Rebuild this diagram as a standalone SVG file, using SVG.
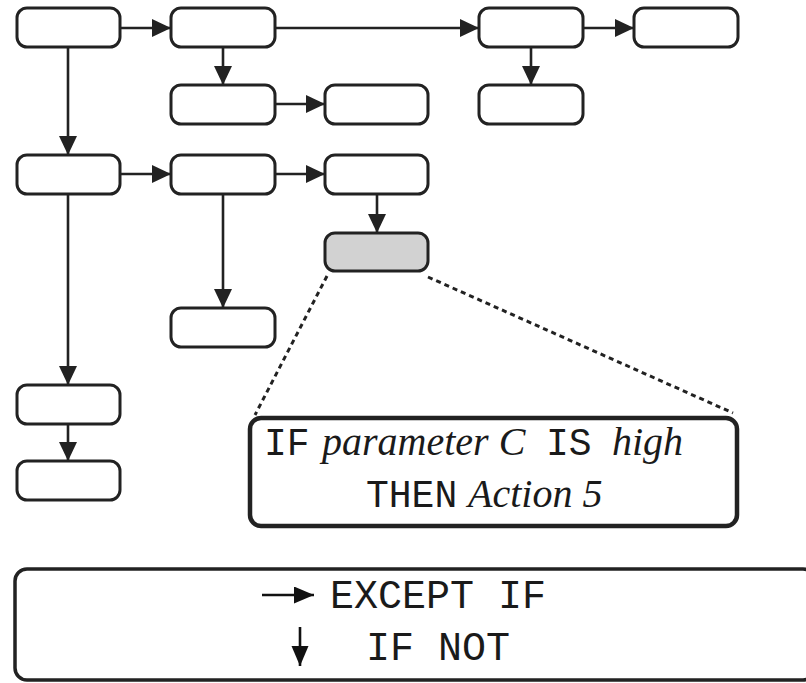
<svg xmlns="http://www.w3.org/2000/svg" width="806" height="683" viewBox="0 0 806 683">
  <style>
    .node rect { fill: #ffffff; stroke: #222222; stroke-width: 3; }
    .node.shaded rect { fill: #d2d2d2; }
    .edge { stroke: #222222; stroke-width: 2.6; fill: none; }
    .dash { stroke: #222222; stroke-width: 3; stroke-dasharray: 5 4; fill: none; }
    .mono { font-family: "Liberation Mono", "Courier New", monospace; fill: #1a1a1a; }
    .ital { font-family: "Liberation Serif", "Times New Roman", serif; font-style: italic; fill: #1a1a1a; }
  </style>
  <defs>
    <marker id="arrow" markerUnits="userSpaceOnUse" markerWidth="20" markerHeight="20" refX="19" refY="9" orient="auto">
      <path d="M0,0 L19,9 L0,18 z" fill="#222222"/>
    </marker>
    <marker id="arrowBig" markerUnits="userSpaceOnUse" markerWidth="21" markerHeight="18" refX="20" refY="8.5" orient="auto">
      <path d="M0,0 L20,8.5 L0,17 z" fill="#111111"/>
    </marker>
  </defs>

  <rect width="806" height="683" fill="#ffffff"/>

  <!-- connectors -->
  <g id="connectors">
    <line class="edge" x1="120" y1="28" x2="171" y2="28" marker-end="url(#arrow)"/>
    <line class="edge" x1="275" y1="28" x2="479" y2="28" marker-end="url(#arrow)"/>
    <line class="edge" x1="583" y1="28" x2="634" y2="28" marker-end="url(#arrow)"/>
    <line class="edge" x1="68" y1="47" x2="68" y2="155" marker-end="url(#arrow)"/>
    <line class="edge" x1="223" y1="47" x2="223" y2="85" marker-end="url(#arrow)"/>
    <line class="edge" x1="531" y1="47" x2="531" y2="85" marker-end="url(#arrow)"/>
    <line class="edge" x1="275" y1="104" x2="325" y2="104" marker-end="url(#arrow)"/>
    <line class="edge" x1="120" y1="174" x2="171" y2="174" marker-end="url(#arrow)"/>
    <line class="edge" x1="275" y1="174" x2="325" y2="174" marker-end="url(#arrow)"/>
    <line class="edge" x1="223" y1="194" x2="223" y2="308" marker-end="url(#arrow)"/>
    <line class="edge" x1="377" y1="194" x2="377" y2="233" marker-end="url(#arrow)"/>
    <line class="edge" x1="68" y1="194" x2="68" y2="385" marker-end="url(#arrow)"/>
    <line class="edge" x1="68" y1="424" x2="68" y2="461" marker-end="url(#arrow)"/>
    <!-- callout lines from the shaded node to its rule -->
    <line class="dash" x1="327" y1="276" x2="255" y2="415"/>
    <line class="dash" x1="428" y1="277" x2="733" y2="413"/>
  </g>

  <!-- decision nodes -->
  <g id="n1" class="node"><rect x="17" y="8" width="103" height="39" rx="10"/></g>
  <g id="n2" class="node"><rect x="171" y="8" width="104" height="39" rx="10"/></g>
  <g id="n3" class="node"><rect x="479" y="8" width="104" height="39" rx="10"/></g>
  <g id="n4" class="node"><rect x="634" y="8" width="104" height="39" rx="10"/></g>
  <g id="n5" class="node"><rect x="171" y="85" width="104" height="39" rx="10"/></g>
  <g id="n6" class="node"><rect x="325" y="85" width="103" height="39" rx="10"/></g>
  <g id="n7" class="node"><rect x="479" y="85" width="104" height="39" rx="10"/></g>
  <g id="n8" class="node"><rect x="17" y="155" width="103" height="39" rx="10"/></g>
  <g id="n9" class="node"><rect x="171" y="155" width="104" height="39" rx="10"/></g>
  <g id="n10" class="node"><rect x="325" y="155" width="103" height="39" rx="10"/></g>
  <g id="n11" class="node shaded"><rect x="325" y="233" width="103" height="38" rx="10"/></g>
  <g id="n12" class="node"><rect x="171" y="308" width="104" height="39" rx="10"/></g>
  <g id="n13" class="node"><rect x="17" y="385" width="103" height="39" rx="10"/></g>
  <g id="n14" class="node"><rect x="17" y="461" width="103" height="39" rx="10"/></g>

  <!-- rule held by the shaded node -->
  <g id="rule">
    <rect x="250" y="418" width="487" height="108" rx="11" fill="#ffffff" stroke="#222222" stroke-width="4.5"/>
    <text class="mono" x="264" y="455" font-size="38">IF</text>
    <text class="ital" x="322" y="455" font-size="40">parameter C</text>
    <text class="mono" x="546" y="455" font-size="38">IS</text>
    <text class="ital" x="612" y="455" font-size="40">high</text>
    <text class="mono" x="366" y="507" font-size="38">THEN</text>
    <text class="ital" x="468" y="507" font-size="40">Action 5</text>
  </g>

  <!-- legend -->
  <g id="legend">
    <rect x="15" y="569" width="800" height="111" rx="12" fill="#ffffff" stroke="#222222" stroke-width="3.5"/>
    <line x1="262" y1="595" x2="314" y2="595" stroke="#111111" stroke-width="2.6" marker-end="url(#arrowBig)"/>
    <text class="mono" x="330" y="608" font-size="40">EXCEPT IF</text>
    <line x1="300" y1="627" x2="300" y2="666" stroke="#111111" stroke-width="2.6" marker-end="url(#arrowBig)"/>
    <text class="mono" x="366" y="660" font-size="40">IF NOT</text>
  </g>
</svg>
